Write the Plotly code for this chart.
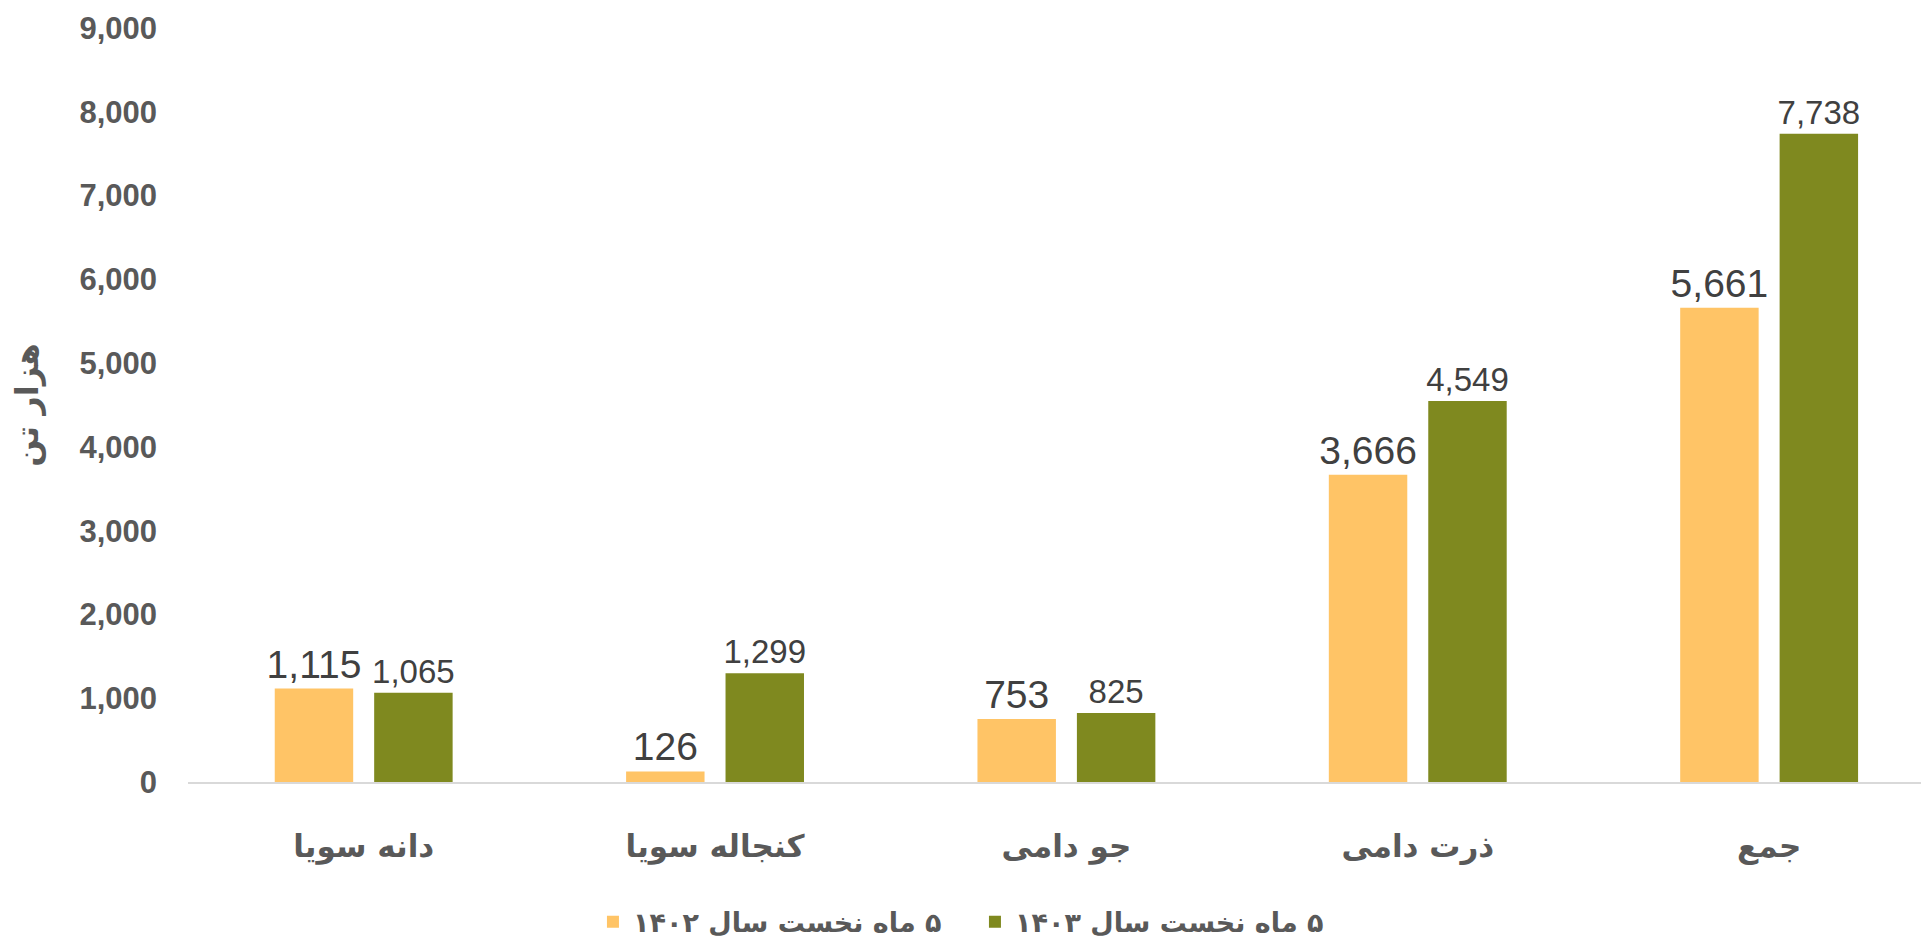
import plotly.graph_objects as go

categories = ["دانه سویا", "کنجاله سویا", "جو دامی", "ذرت دامی", "جمع"]
values_1402 = [1115, 126, 753, 3666, 5661]
values_1403 = [1065, 1299, 825, 4549, 7738]
series_names = ["\u200f۵ ماه نخست سال ۱۴۰۲", "\u200f۵ ماه نخست سال ۱۴۰۳"]
y_title = "هزار تن"
y_ticks = [0, 1000, 2000, 3000, 4000, 5000, 6000, 7000, 8000, 9000]

fa_font = "DejaVu Sans"
num_font = "Liberation Sans, Arial"

fig = go.Figure()
fig.add_trace(go.Bar(
    x=categories, y=values_1402, name=series_names[0],
    marker=dict(color="#FFC466", line=dict(width=0)),
    text=[f"{v:,}" for v in values_1402], textposition="outside",
    textfont=dict(family=num_font, size=39, color="#404040"),
    constraintext="none", cliponaxis=False,
))
fig.add_trace(go.Bar(
    x=categories, y=values_1403, name=series_names[1],
    marker=dict(color="#7F891F", line=dict(width=0)),
    text=[f"{v:,}" for v in values_1403], textposition="outside",
    textfont=dict(family=num_font, size=33, color="#404040"),
    constraintext="none", cliponaxis=False,
))

fig.update_layout(
    width=1921, height=941,
    margin=dict(l=180, r=0, t=20, b=167),
    paper_bgcolor="white", plot_bgcolor="white",
    barmode="group", bargap=0.434, bargroupgap=0.211,
    showlegend=True,
    legend=dict(orientation="h", x=0.2326, xanchor="left", y=-0.186, yanchor="middle",
                font=dict(family=fa_font, size=27, color="#595959", weight="bold"),
                itemwidth=30, traceorder="normal", entrywidth=337, entrywidthmode="pixels"),
    xaxis=dict(
        range=[-0.5, 4.455], showgrid=False, showline=True, linecolor="#D9D9D9", linewidth=2,
        ticks="", ticklabelstandoff=36,
        tickfont=dict(family=fa_font, size=31, color="#595959", weight="bold"),
    ),
    yaxis=dict(
        range=[0, 9000], tickvals=y_ticks, tickformat=",d", showgrid=False, zeroline=False,
        showline=False, ticks="", ticklabelstandoff=30,
        tickfont=dict(family=num_font, size=31, color="#595959", weight="bold"),
        title=dict(text=y_title, standoff=32,
                   font=dict(family=fa_font, size=32, color="#595959", weight="bold")),
    ),
)

fig.write_html("out.html")
